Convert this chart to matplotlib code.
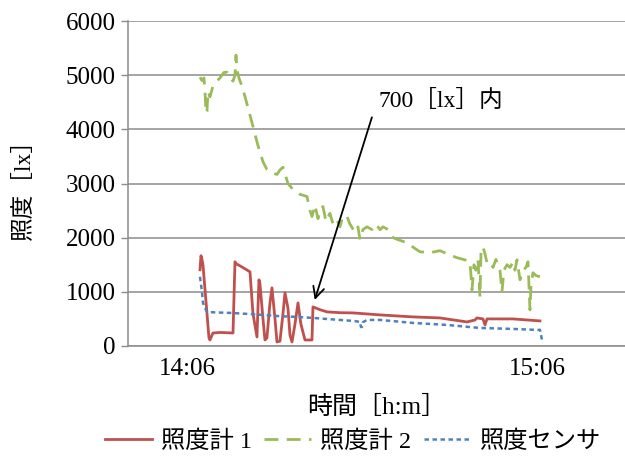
import matplotlib
matplotlib.use("Agg")
import matplotlib.pyplot as plt

plt.rcParams['font.family'] = ['Liberation Serif', 'Noto Sans CJK JP', 'DejaVu Sans']

# time in minutes after 14:06
t_red = [2.23, 2.40, 2.57, 2.74, 3.43, 3.77, 3.94, 4.29, 4.46, 5.66, 7.89, 8.06, 8.23, 8.40,
         9.09, 10.80, 11.31, 12.00, 12.17, 12.34, 12.51, 13.03, 13.37, 13.71, 14.23, 14.57,
         15.09, 15.43, 15.94, 16.46, 16.80, 17.31, 17.66, 18.00, 18.51, 19.03, 19.54, 20.23,
         21.09, 21.43, 21.60, 22.80, 24.00, 26.23, 28.46, 33.09, 38.74, 43.37, 48.00, 49.37,
         49.71, 50.74, 51.09, 51.43, 51.94, 55.89, 60.51]
v_red = [1407, 1667, 1600, 1500, 600, 150, 111, 200, 240, 250, 240, 900, 1555, 1520,
         1480, 1370, 600, 167, 700, 1222, 1150, 500, 111, 150, 800, 1074,
         500, 74, 90, 600, 981, 700, 200, 74, 400, 796, 400, 111,
         111, 111, 722, 670, 630, 615, 611, 574, 537, 518, 444, 480,
         518, 500, 389, 500, 500, 500, 463]

t_green = [2.23, 2.57, 2.91, 3.09, 3.26, 3.43, 3.60, 3.94, 4.46, 5.14, 5.66, 6.34, 6.86, 7.37,
           7.89, 8.23, 8.40, 8.57, 8.91, 9.60, 10.46, 11.31, 12.17, 13.03, 13.71, 14.57,
           15.43, 15.94, 16.46, 17.31, 18.17, 19.37, 20.57, 21.09, 21.43, 21.94, 22.46,
           22.80, 23.31, 23.83, 24.51, 25.03, 25.71, 26.23, 26.74, 27.43, 27.94, 28.80,
           29.31, 29.66, 30.17, 30.86, 31.71, 32.40, 33.09, 33.60, 34.46, 35.31, 36.51,
           37.71, 39.09, 39.94, 41.66, 43.37, 45.09, 46.29, 47.66, 48.51, 48.69, 48.86,
           49.20, 49.54, 49.89, 50.23, 50.40, 50.74, 51.09, 51.43, 51.94, 52.46, 52.97,
           53.66, 54.00, 54.34, 54.86, 55.37, 55.89, 56.23, 56.57, 57.09, 57.60, 58.11,
           58.46, 58.80, 58.97, 59.31, 59.83, 60.51]
v_green = [4963, 4900, 4950, 4700, 4300, 4333, 4700, 4600, 4800, 4890, 4950, 5050, 5055, 4950,
           4890, 5000, 5370, 5100, 4950, 4740, 4400, 4055, 3700, 3400, 3260, 3200,
           3167, 3250, 3300, 3000, 2890, 2800, 2760, 2500, 2390, 2600, 2350,
           2500, 2575, 2300, 2450, 2250, 2333, 2200, 2400, 2390, 2250, 2100,
           2200, 1963, 2150, 2200, 2150, 2250, 2148, 2200, 2150, 2000, 1950,
           1907, 1800, 1740, 1722, 1760, 1680, 1630, 1590, 1555, 1300, 1037,
           1500, 1400, 1600, 907, 1722, 1833, 1700, 1537, 1560, 1450, 1600,
           1400, 1000, 1400, 1500, 1450, 1550, 1400, 1592, 1222, 1400, 1450,
           1555, 667, 1100, 1352, 1300, 1278]

t_blue = [2.23, 2.57, 2.74, 3.09, 3.43, 4.80, 7.37, 10.80, 13.03, 15.94, 18.86, 21.60, 26.23,
          28.80, 29.66, 29.83, 30.00, 30.17, 30.86, 33.09, 38.74, 44.57, 50.23, 55.89,
          60.17, 60.51, 60.86]
v_blue = [1278, 1000, 796, 700, 630, 620, 611, 590, 574, 550, 537, 518, 481,
          460, 444, 350, 352, 440, 481, 481, 426, 389, 333, 315,
          296, 300, 111]

series_names = ['照度計 1', '照度計 2', '照度センサ']
x_ticks = [0, 60]
x_ticklabels = ['14:06', '15:06']
y_ticks = [0, 1000, 2000, 3000, 4000, 5000, 6000]

fig = plt.figure(figsize=(6.25, 4.57), dpi=100)
ax = fig.add_axes([0.2048, 0.2429, 0.7952, 0.7111])

grid_c = '#8c8c8c'
ax.plot(t_red, v_red, color='#C0504D', lw=2.0, label=series_names[0], zorder=3)
ax.plot(t_green, v_green, color='#9BBB59', lw=2.0, dashes=(5, 3), label=series_names[1], zorder=3)
ax.plot(t_blue, v_blue, color='#4F81BD', lw=1.8, dashes=(1.8, 1.4), label=series_names[2], zorder=3)

ax.set_xlim(-10.11, 75.09)
ax.set_ylim(0, 6000)
ax.set_yticks(y_ticks)
ax.set_xticks(x_ticks)
ax.set_xticklabels(x_ticklabels)
ax.tick_params(axis='x', length=0, labelsize=18, pad=9)
ax.tick_params(axis='y', length=5, color=grid_c, labelsize=18, pad=4, width=1)
ax.yaxis.grid(True, color=grid_c, lw=1.1)
ax.set_axisbelow(True)
for s in ['top', 'right']:
    ax.spines[s].set_visible(False)
for s in ['left', 'bottom']:
    ax.spines[s].set_color(grid_c)
    ax.spines[s].set_linewidth(1.1)

ax.set_ylabel('照度［lx］', fontsize=17, labelpad=22)
ax.set_xlabel('時間［h:m］', fontsize=18, labelpad=11)

ax.text(43.5, 4519, '700［lx］内', fontsize=17, ha='center', va='center')
ax.annotate('', xy=(21.9, 850), xytext=(31.7, 4222),
            arrowprops=dict(arrowstyle='->', color='black', lw=1.3,
                            mutation_scale=20, shrinkA=0, shrinkB=0))

leg = fig.legend(loc='center', bbox_to_anchor=(0.565, 0.034), ncol=3, frameon=False,
                 fontsize=17.5, handlelength=1.9, columnspacing=0.5, handletextpad=0.4)

fig.savefig('out.png', dpi=100)
